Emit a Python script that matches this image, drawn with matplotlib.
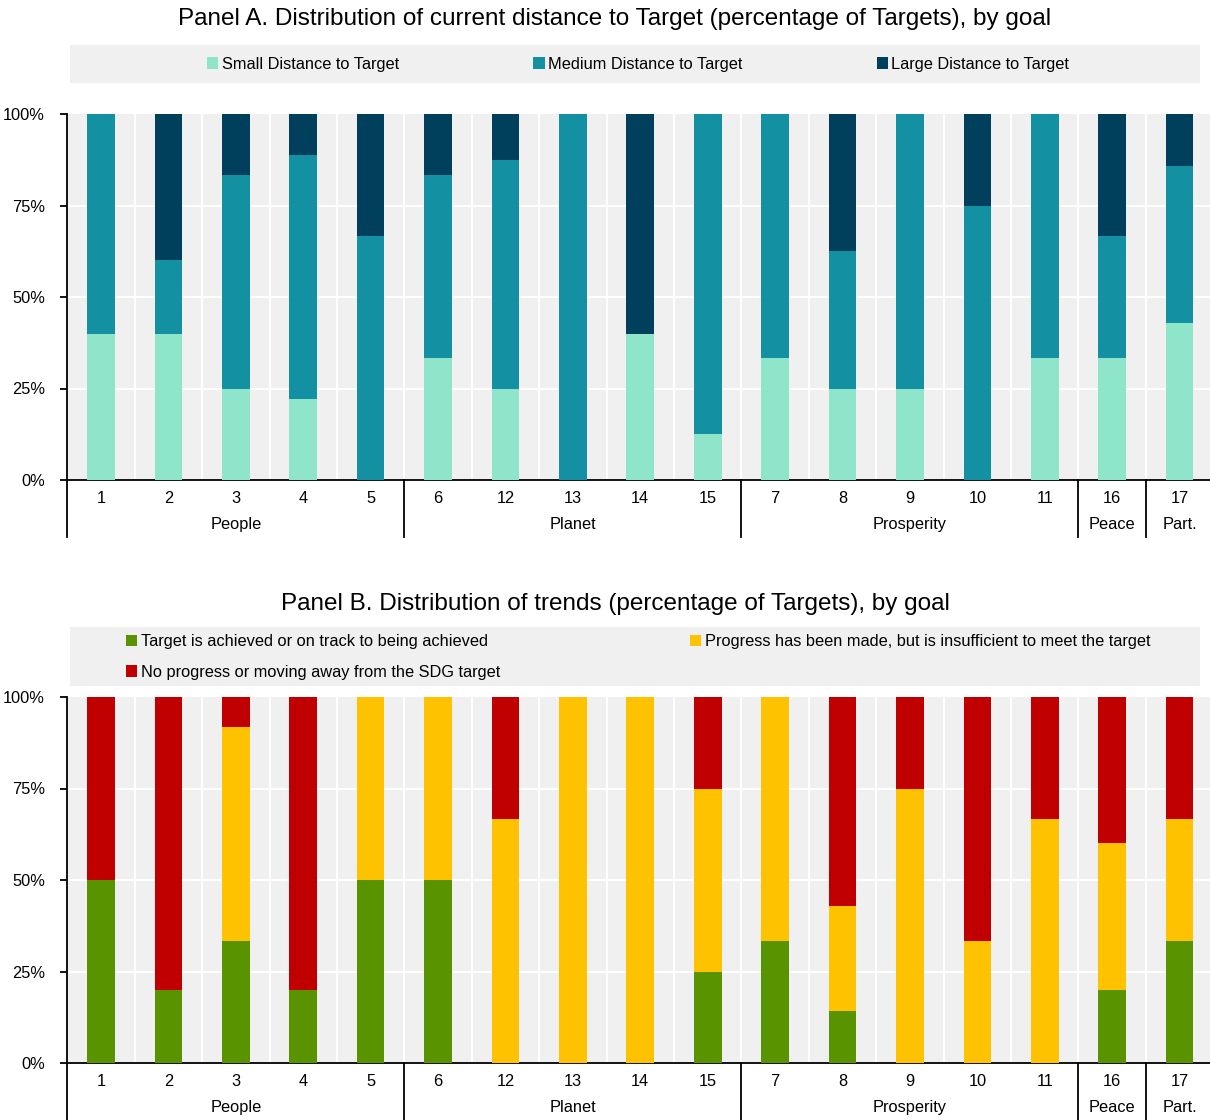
import numpy as np
import matplotlib.pyplot as plt
from matplotlib.patches import Rectangle
from matplotlib.transforms import blended_transform_factory

plt.rcParams['font.family'] = ['Liberation Sans', 'DejaVu Sans']

# --- data ---
goals = ['1', '2', '3', '4', '5', '6', '12', '13', '14', '15', '7', '8', '9', '10', '11', '16', '17']
groups = ['People', 'Planet', 'Prosperity', 'Peace', 'Part.']
group_sizes = [5, 5, 5, 1, 1]

# Panel A: distance to target (% of targets)
small_dist = [40, 40, 25, 22.2, 0, 33.3, 25, 0, 40, 12.5, 33.3, 25, 25, 0, 33.3, 33.3, 42.9]
medium_dist = [60, 20, 58.3, 66.7, 66.7, 50, 62.5, 100, 0, 87.5, 66.7, 37.5, 75, 75, 66.7, 33.3, 42.8]
large_dist = [0, 40, 16.7, 11.1, 33.3, 16.7, 12.5, 0, 60, 0, 0, 37.5, 0, 25, 0, 33.4, 14.3]

# Panel B: trends (% of targets)
on_track = [50, 20, 33.3, 20, 50, 50, 0, 0, 0, 25, 33.3, 14.3, 0, 0, 0, 20, 33.3]
insufficient = [0, 0, 58.4, 0, 50, 50, 66.7, 100, 100, 50, 66.7, 28.6, 75, 33.3, 66.7, 40, 33.3]
no_progress = [50, 80, 8.3, 80, 0, 0, 33.3, 0, 0, 25, 0, 57.1, 25, 66.7, 33.3, 40, 33.4]

labels_a = ['Small Distance to Target', 'Medium Distance to Target', 'Large Distance to Target']
colors_a = ['#8EE5CA', '#1490A3', '#01405C']
labels_b = ['Target is achieved or on track to being achieved',
            'Progress has been made, but is insufficient to meet the target',
            'No progress or moving away from the SDG target']
colors_b = ['#599300', '#FFC200', '#C00000']

W, H = 1210, 1120
fig = plt.figure(figsize=(W / 100, H / 100), dpi=100)
BG = '#F0F0F0'
FS = 11.8


def draw_panel(ax, series, colors, labels):
    x = np.arange(len(goals))
    bottom = np.zeros(len(goals))
    handles = []
    for vals, col, lab in zip(series, colors, labels):
        h = ax.bar(x, vals, 0.41, bottom=bottom, color=col, label=lab, zorder=3)
        handles.append(h)
        bottom += np.array(vals)
    ax.set_facecolor(BG)
    ax.set_xlim(-0.5, len(goals) - 0.5)
    ax.set_ylim(0, 100)
    ax.set_yticks([0, 25, 50, 75, 100])
    ax.set_yticklabels(['0%', '25%', '50%', '75%', '100%'], fontsize=FS)
    for yv in [25, 50, 75]:
        ax.axhline(yv, color='white', lw=1.5, zorder=1)
    for xv in np.arange(0.5, len(goals) - 0.5, 1):
        ax.axvline(xv, color='white', lw=1.5, zorder=1)
    for s in ['top', 'right']:
        ax.spines[s].set_visible(False)
    ax.spines['left'].set_linewidth(1.3)
    ax.spines['bottom'].set_linewidth(1.3)
    ax.tick_params(axis='y', length=5, width=1.3, pad=11)
    ax.tick_params(axis='x', length=0, pad=8)
    ax.set_xticks(x)
    ax.set_xticklabels(goals, fontsize=FS)

    # group labels and separators under the axis
    tr = blended_transform_factory(ax.transData, ax.transAxes)
    edges = np.concatenate([[0], np.cumsum(group_sizes)]) - 0.5
    for e in edges:
        ax.plot([e, e], [0, -0.155], color='black', lw=1.3, transform=tr,
                clip_on=False, zorder=5)
    for g, a, b in zip(groups, edges[:-1], edges[1:]):
        ax.text((a + b) / 2, -0.122, g, transform=tr, ha='center', va='center',
                fontsize=FS)
    return handles


def legend_box(y_top, y_bot):
    fig.patches.append(Rectangle((70 / W, 1 - y_bot / H), 1130 / W, (y_bot - y_top) / H,
                                 transform=fig.transFigure, facecolor=BG,
                                 edgecolor='none', zorder=0))


# axes run past the right edge of the figure, as in the cropped original
AX_L, AX_W = 67.3, 1146

# Panel A
ax1 = fig.add_axes([AX_L / W, 1 - 480 / H, AX_W / W, 366 / H])
hA = draw_panel(ax1, [small_dist, medium_dist, large_dist], colors_a, labels_a)
fig.text(615 / W, 1 - 19 / H, 'Panel A. Distribution of current distance to Target '
         '(percentage of Targets), by goal', ha='center', va='center', fontsize=17.5)
legend_box(45, 83)
fig.legend(hA, labels_a, loc='center', bbox_to_anchor=(638 / W, 1 - 64 / H), ncol=3,
           frameon=False, fontsize=FS, handlelength=0.7, handleheight=0.7,
           handletextpad=0.2, columnspacing=8.2)

# Panel B
ax2 = fig.add_axes([AX_L / W, 1 - 1063 / H, AX_W / W, 366 / H])
hB = draw_panel(ax2, [on_track, insufficient, no_progress], colors_b, labels_b)
fig.text(615 / W, 1 - 604 / H, 'Panel B. Distribution of trends '
         '(percentage of Targets), by goal', ha='center', va='center', fontsize=17.5)
legend_box(627, 686)
fig.legend([hB[0], hB[2], hB[1]], [labels_b[0], labels_b[2], labels_b[1]], loc='center',
           bbox_to_anchor=(638 / W, 1 - 657 / H), ncol=2, frameon=False, fontsize=FS,
           handlelength=0.7, handleheight=0.7, handletextpad=0.2, columnspacing=11.6,
           labelspacing=0.95)

fig.savefig('out.png', dpi=100)
